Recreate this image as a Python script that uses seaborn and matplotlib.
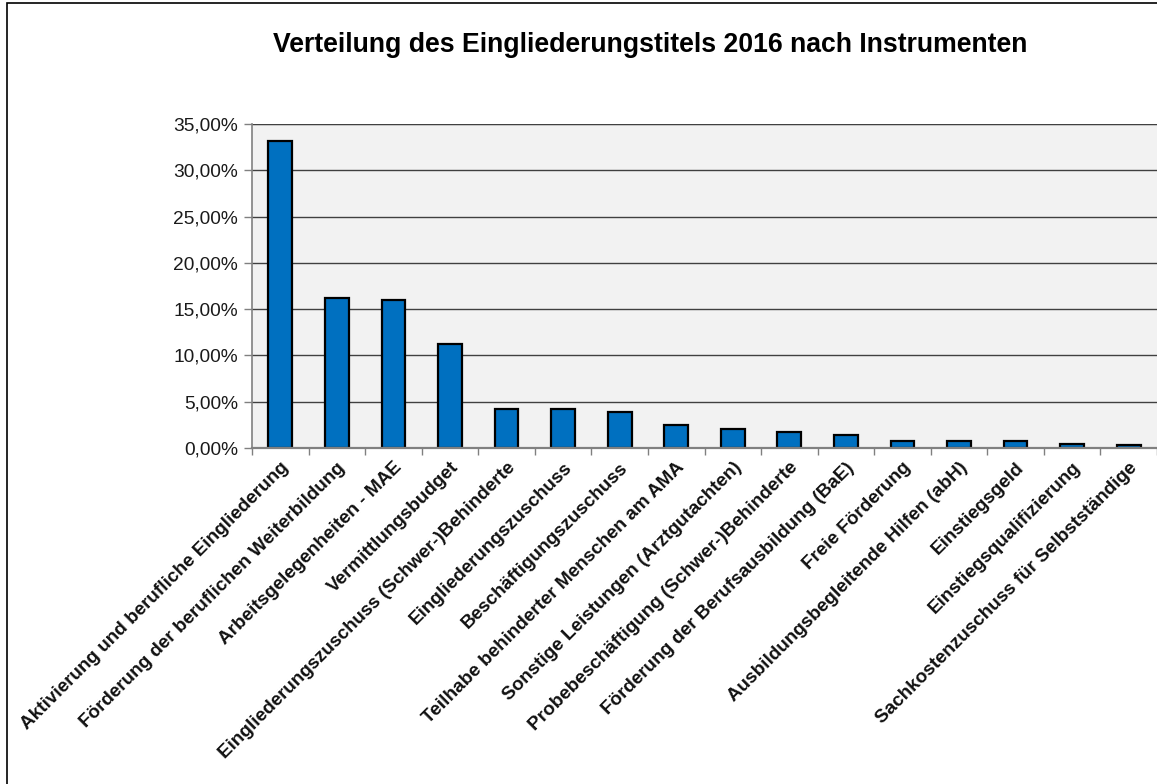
import matplotlib
matplotlib.use("Agg")
import matplotlib.pyplot as plt
import seaborn as sns
import pandas as pd
from matplotlib.ticker import FuncFormatter, FixedLocator
from matplotlib.patches import Rectangle

categories = [
    "Aktivierung und berufliche Eingliederung",
    "Förderung der beruflichen Weiterbildung",
    "Arbeitsgelegenheiten - MAE",
    "Vermittlungsbudget",
    "Eingliederungszuschuss (Schwer-)Behinderte",
    "Eingliederungszuschuss",
    "Beschäftigungszuschuss",
    "Teilhabe behinderter Menschen am AMA",
    "Sonstige Leistungen (Arztgutachten)",
    "Probebeschäftigung (Schwer-)Behinderte",
    "Förderung der Berufsausbildung (BaE)",
    "Freie Förderung",
    "Ausbildungsbegleitende Hilfen (abH)",
    "Einstiegsgeld",
    "Einstiegsqualifizierung",
    "Sachkostenzuschuss für Selbstständige",
]
values = [33.2, 16.25, 16.0, 11.28, 4.16, 4.16, 3.93, 2.5, 2.0, 1.77, 1.4, 0.8, 0.8, 0.8, 0.43, 0.3]
yticks = [0, 5, 10, 15, 20, 25, 30, 35]
title = "Verteilung des Eingliederungstitels 2016 nach Instrumenten"

sns.set_theme(style="white")
plt.rcParams["font.family"] = ["Liberation Sans", "DejaVu Sans"]

df = pd.DataFrame({"cat": categories, "val": values})

fig = plt.figure(figsize=(11.57, 7.84), dpi=100)
ax = fig.add_axes([252/1157, 1-448/784, 1-252/1157, (448-124)/784])
ax.set_facecolor("#F2F2F2")

sns.barplot(data=df, x="cat", y="val", order=categories, color="#0070C0",
            width=0.42, edgecolor="black", linewidth=1.6, saturation=1, ax=ax)

ax.set_xlim(-0.5, len(categories) - 0.5)
ax.set_ylim(0, 35)
ax.yaxis.set_major_locator(FixedLocator(yticks))
ax.yaxis.set_major_formatter(FuncFormatter(lambda v, p: f"{v:.2f}%".replace(".", ",")))
ax.grid(axis="y", color="#404040", linewidth=1.0)
ax.set_axisbelow(True)
ax.set_xlabel("")
ax.set_ylabel("")

for s in ["top", "right"]:
    ax.spines[s].set_visible(False)
ax.spines["left"].set_color("#808080")
ax.spines["left"].set_linewidth(1.2)
ax.spines["bottom"].set_color("#808080")
ax.spines["bottom"].set_linewidth(1.6)
ax.axhline(35, color="#808080", linewidth=1.6, zorder=0.5)

ax.tick_params(axis="y", which="major", direction="out", length=6, width=1, color="#808080",
               labelsize=13.8, labelcolor="#1a1a1a", pad=4, left=True)
ax.tick_params(axis="x", which="major", length=0, pad=8)
ax.set_xticks([i + 0.5 for i in range(-1, len(categories))], minor=True)
ax.tick_params(axis="x", which="minor", direction="out", length=5, width=1, color="#808080", bottom=True)
ax.set_xticks(range(len(categories)))
ax.set_xticklabels(categories, rotation=45, ha="right", rotation_mode="anchor",
                   fontsize=13.6, fontweight="bold", color="#111111")

fig.text(0.562, 0.942, title, ha="center", va="center", fontsize=19.2, fontweight="bold", color="black")

fig.patches.append(Rectangle((7/1157, -0.1), 1.2, 1 - 3/784 + 0.1, transform=fig.transFigure,
                             fill=False, edgecolor="black", linewidth=1.2, zorder=10))

fig.savefig("out.png", dpi=100)
